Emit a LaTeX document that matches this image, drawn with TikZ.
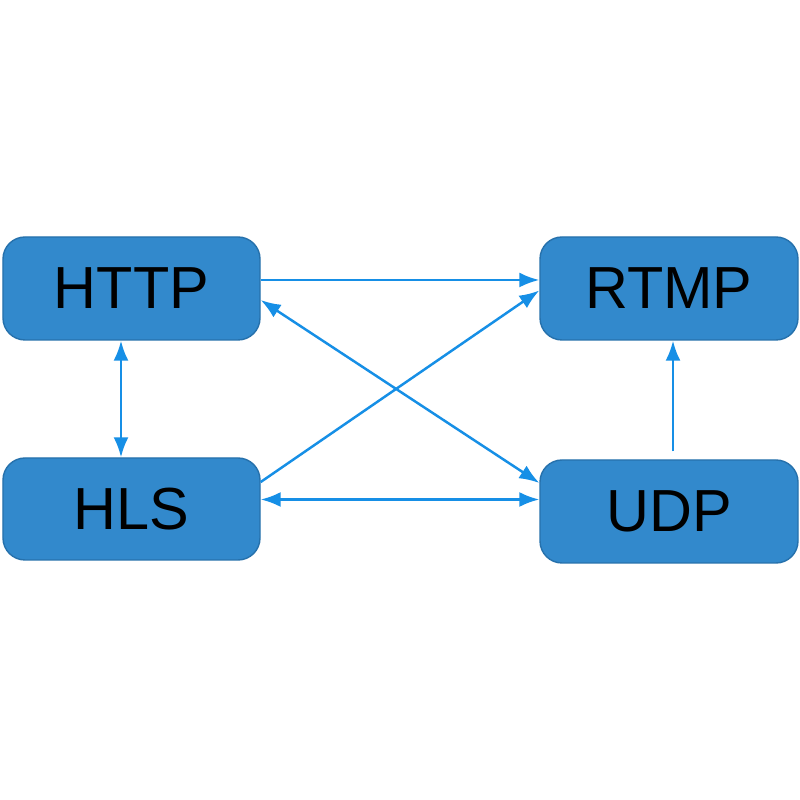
\documentclass[tikz,border=0pt]{standalone}
\usepackage{fontspec}
\setmainfont{Liberation Sans}
\usetikzlibrary{arrows.meta,positioning,calc}
\definecolor{NetBlue}{RGB}{50,137,204}
\definecolor{NetEdge}{RGB}{38,113,172}
\definecolor{NetArrow}{RGB}{22,143,230}
\tikzset{
  net/box/.style={
    draw=NetEdge,
    thin,
    rounded corners=0.22cm,
    fill=NetBlue,
    align=center,
    text=black,
    minimum width=2.57cm,
    minimum height=1.03cm,
    inner sep=0pt,
    font=\fontsize{16.9}{20}\selectfont
  },
  net/arrow/.style={-{Latex[length=0.2cm,width=0.15cm]}, line width=0.7pt, draw=NetArrow},
  net/dblarrow/.style={{Latex[length=0.2cm,width=0.15cm]}-{Latex[length=0.2cm,width=0.15cm]}, line width=0.7pt, draw=NetArrow}
}
\begin{document}
\begin{tikzpicture}[x=1cm,y=1cm]
  \useasboundingbox[fill=white] (0,0) rectangle (8,8);
  % protocol boxes
  \node[net/box] (http) at (1.315,5.115) {HTTP};
  \node[net/box,minimum width=2.58cm] (rtmp) at (6.69,5.115) {RTMP};
  \node[net/box,minimum height=1.02cm] (hls) at (1.315,2.91) {HLS};
  \node[net/box,minimum width=2.58cm] (udp) at (6.69,2.885) {UDP};
  % links
  \draw[net/arrow] ([yshift=0.085cm]http.east) -- ([yshift=0.085cm]rtmp.west);
  \draw[net/arrow] ([yshift=0.27cm]hls.east) -- ([yshift=-0.02cm]rtmp.west);
  \draw[net/dblarrow] ([yshift=-0.115cm]http.east) -- ([yshift=0.285cm]udp.west);
  \draw[net/dblarrow] ([yshift=0.095cm]hls.east) -- ([yshift=0.095cm]hls.east -| udp.west);
  \draw[net/dblarrow] ([xshift=-0.105cm]http.south) -- ([xshift=-0.105cm]http.south |- hls.north);
  \draw[net/arrow,shorten <=0.08cm] ([xshift=0.04cm]udp.north) -- ([xshift=0.04cm]udp.north |- rtmp.south);
\end{tikzpicture}
\end{document}
